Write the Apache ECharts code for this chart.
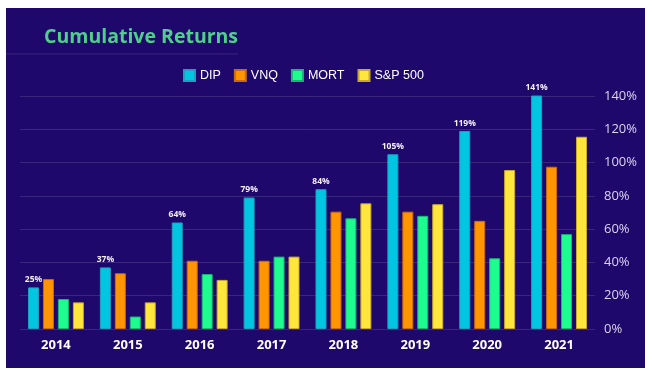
<!DOCTYPE html>
<html><head><meta charset="utf-8">
<script src="https://cdn.jsdelivr.net/npm/echarts@6/dist/echarts.min.js"></script>
<style>html,body{margin:0;padding:0;background:#fff;}#c{width:652px;height:376px;}</style>
</head><body><div id="c"></div>
<script>
const categories = ['2014','2015','2016','2017','2018','2019','2020','2021'];
const dip  = [25, 37, 64, 79, 84, 105, 119, 141];
const vnq  = [30, 33.5, 41, 41, 70.5, 70.5, 65, 97.5];
const mort = [18, 7.5, 33, 43.5, 66.5, 68, 42.5, 57];
const sp500 = [16, 16, 29.5, 43.5, 75.5, 75, 95.5, 115.5];
const yTicks = [0, 20, 40, 60, 80, 100, 120, 140];

const chart = echarts.init(document.getElementById('c'), null, {renderer:'canvas'});
function bar(name, data, color, border, withLabel){
  return {
    name, type:'bar', data, barWidth:11, barGap:'36%',
    itemStyle:{color, borderColor:border, borderWidth:1},
    label: withLabel ? {show:true, position:'top', distance:3, formatter:p=>Math.round(p.value)+'%', color:'#f2eefa', fontSize:8.5, fontWeight:'bold', fontFamily:'"Open Sans", sans-serif'} : {show:false}
  };
}
chart.setOption({
  backgroundColor:'#ffffff',
  animation:false,
  graphic:[
    {type:'rect', z:-10, shape:{x:6,y:8,width:639,height:360}, style:{fill:'#1e086b'}},
    {type:'line', z:-9, shape:{x1:6,y1:54,x2:238,y2:54}, style:{stroke:'rgba(255,255,255,0.12)', lineWidth:1}},
    {type:'text', left:44, top:27, style:{text:'Cumulative Returns', fill:'#4fd08a', font:'bold 19.5px "Open Sans", sans-serif'}}
  ],
  legend:{
    top:64, left:178, icon:'rect', itemWidth:11, itemHeight:11, itemGap:13,
    textStyle:{color:'#ffffff', fontSize:12.5, fontFamily:'"Liberation Sans", Arial, sans-serif'},
    data:['DIP','VNQ','MORT','S&P 500']
  },
  grid:{left:20, right:57, top:96, bottom:47},
  xAxis:{
    type:'category', data:categories,
    axisLine:{show:false}, axisTick:{show:false},
    axisLabel:{color:'#ffffff', fontSize:13, fontWeight:'bold', fontFamily:'"Open Sans", sans-serif', margin:10}
  },
  yAxis:{
    type:'value', position:'right', min:0, max:140, interval:20,
    axisLabel:{color:'#dcd6f2', fontSize:13, fontFamily:'"Open Sans", sans-serif', margin:9, formatter:v=>v+'%'},
    axisLine:{show:false}, axisTick:{show:false},
    splitLine:{lineStyle:{color:'rgba(255,255,255,0.12)', width:1}}
  },
  series:[
    bar('DIP', dip, '#00c6e2', '#1fa0c0', true),
    bar('VNQ', vnq, '#ff9500', '#c86a10', false),
    bar('MORT', mort, '#1efb8f', '#18b870', false),
    bar('S&P 500', sp500, '#ffe63c', '#c8a830', false)
  ]
});
</script></body></html>
